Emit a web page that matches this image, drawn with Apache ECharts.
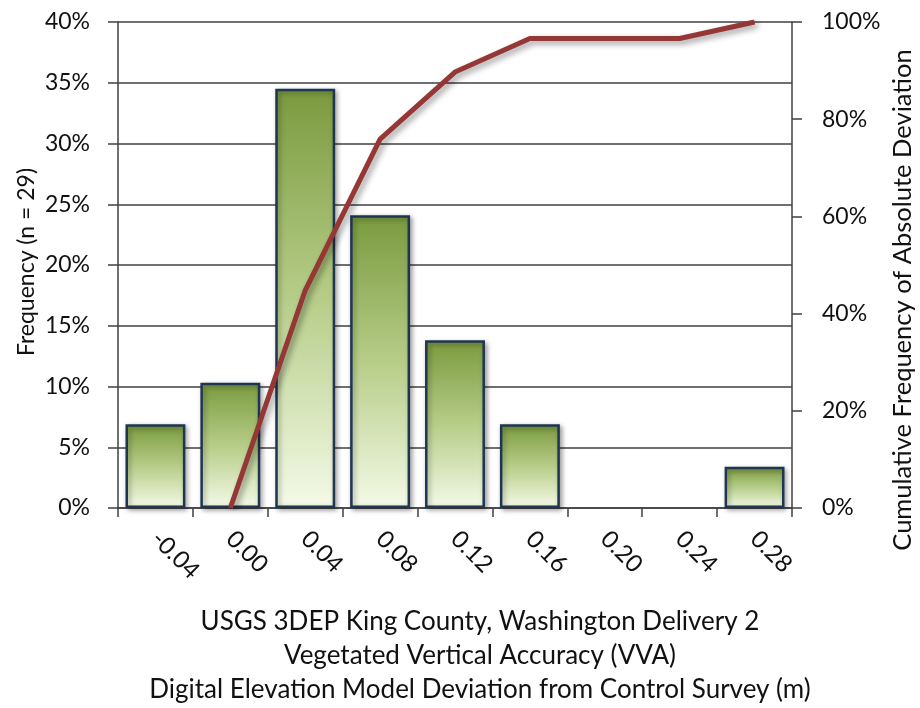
<!DOCTYPE html>
<html>
<head>
<meta charset="utf-8">
<script src="https://cdn.jsdelivr.net/npm/echarts@6/dist/echarts.min.js"></script>
<style>
html,body{margin:0;padding:0;background:#fff;}
#chart{width:920px;height:708px;}
</style>
</head>
<body>
<div id="chart"></div>
<script>
const categories = ['-0.04', '0.00', '0.04', '0.08', '0.12', '0.16', '0.20', '0.24', '0.28'];
const frequency = [6.9, 10.3, 34.5, 24.1, 13.8, 6.9, 0, 0, 3.4];
const cumulative = ['-', 0, 44.8, 75.9, 89.7, 96.6, 96.6, 96.6, 100];
const leftTicks = {min: 0, max: 40, interval: 5};
const rightTicks = {min: 0, max: 100, interval: 20};
const leftTitle = 'Frequency (n = 29)';
const rightTitle = 'Cumulative Frequency of Absolute Deviation';
const xTitleLines = ['USGS 3DEP King County, Washington Delivery 2', 'Vegetated Vertical Accuracy (VVA)', 'Digital Elevation Model Deviation from Control Survey (m)'];

const FONT = 'Lato';
const TXT = '#111111';
const AX = '#404040';

// zero-height bars are not drawn in the reference
const barData = frequency.map(v => (v === 0 ? '-' : v));

const chart = echarts.init(document.getElementById('chart'), null, {renderer: 'canvas'});
chart.setOption({
  animation: false,
  backgroundColor: '#ffffff',
  textStyle: {fontFamily: FONT},
  grid: {left: 118, right: 128, top: 22, bottom: 200, containLabel: false},
  xAxis: {
    type: 'category',
    data: categories,
    boundaryGap: true,
    axisLine: {show: true, lineStyle: {color: AX, width: 1.5}},
    axisTick: {show: true, length: 9, inside: false, lineStyle: {color: AX, width: 1.5}},
    axisLabel: {rotate: -45, margin: 27, fontSize: 24, color: TXT, fontFamily: FONT},
    splitLine: {show: false}
  },
  yAxis: [
    {
      type: 'value',
      min: leftTicks.min, max: leftTicks.max, interval: leftTicks.interval,
      position: 'left',
      axisLine: {show: true, lineStyle: {color: AX, width: 1.5}},
      axisTick: {show: true, length: 10, lineStyle: {color: AX, width: 1.5}},
      axisLabel: {formatter: '{value}%', margin: 28, fontSize: 23, color: TXT, fontFamily: FONT},
      splitLine: {show: true, lineStyle: {color: AX, width: 1.5}}
    },
    {
      type: 'value',
      min: rightTicks.min, max: rightTicks.max, interval: rightTicks.interval,
      position: 'right',
      axisLine: {show: true, lineStyle: {color: AX, width: 1.5}},
      axisTick: {show: true, length: 10, lineStyle: {color: AX, width: 1.5}},
      axisLabel: {formatter: '{value}%', margin: 30, fontSize: 23, color: TXT, fontFamily: FONT},
      splitLine: {show: false}
    }
  ],
  series: [
    {
      type: 'bar',
      data: barData,
      yAxisIndex: 0,
      barWidth: '80%',
      itemStyle: {
        color: {
          type: 'linear', x: 0, y: 0, x2: 0, y2: 1,
          colorStops: [
            {offset: 0, color: '#7a9a3e'},
            {offset: 0.5, color: '#b6cd88'},
            {offset: 1, color: '#f4fae8'}
          ]
        },
        borderColor: '#1f3550',
        borderWidth: 2.5,
        shadowColor: 'rgba(0,0,0,0.35)',
        shadowBlur: 5,
        shadowOffsetX: 2,
        shadowOffsetY: 2
      },
      z: 2
    },
    {
      type: 'line',
      data: cumulative,
      yAxisIndex: 1,
      symbol: 'none',
      connectNulls: false,
      lineStyle: {
        color: '#953735', width: 5,
        shadowColor: 'rgba(0,0,0,0.4)', shadowBlur: 6, shadowOffsetX: 3, shadowOffsetY: 3
      },
      z: 5
    }
  ],
  graphic: [
    {
      type: 'text', x: 27, y: 262, rotation: Math.PI / 2,
      style: {text: leftTitle, fontSize: 23, fontFamily: FONT, fill: TXT, align: 'center', verticalAlign: 'middle'}
    },
    {
      type: 'text', x: 903, y: 300, rotation: Math.PI / 2,
      style: {text: rightTitle, fontSize: 25.5, fontFamily: FONT, fill: TXT, align: 'center', verticalAlign: 'middle'}
    },
    {
      type: 'text', x: 480, y: 656,
      style: {text: xTitleLines.join('\n'), fontSize: 26, lineHeight: 34, fontFamily: FONT, fill: TXT, align: 'center', verticalAlign: 'middle'}
    }
  ]
});
</script>
</body>
</html>
